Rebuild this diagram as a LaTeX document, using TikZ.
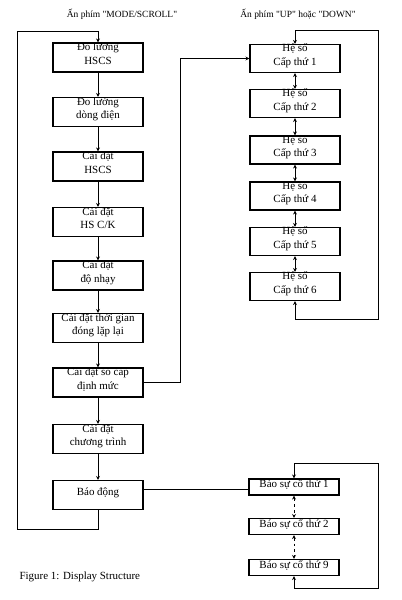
\documentclass[tikz,border=0pt]{standalone}
\usepackage{fontspec}
\setmainfont{Liberation Serif}[Ligatures=TeXOff]
\usetikzlibrary{arrows.meta}
\newcommand{\boxtxt}[1]{\raisebox{2.5bp}[\height][\depth]{\begin{tabular}{@{}c@{}}#1\end{tabular}}}
\newcommand{\alarmtxt}[1]{\raisebox{2.5bp}[\height][\depth]{#1}\hspace{9bp}}
\begin{document}
\begin{tikzpicture}[x=1bp,y=-1bp,
  box/.style={draw,line width=1.1bp,minimum width=90bp,minimum height=29bp,inner sep=0pt,font=\fontsize{11}{13.5}\selectfont},
  rbox/.style={box,minimum height=28bp},
  abox/.style={draw,line width=1.1bp,minimum width=90bp,minimum height=16bp,inner sep=0pt,font=\fontsize{11}{12}\selectfont},
  ln/.style={line width=1bp},
  arr/.style={ln,-{Stealth[length=4bp,width=4bp]}},
  darr/.style={ln,{Stealth[length=4bp,width=4bp]}-{Stealth[length=4bp,width=4bp]}},
  lbl/.style={font=\fontsize{9.5}{11}\selectfont}
]
\useasboundingbox (0,0) rectangle (401,600);
% headers
\node[lbl] (h1) at (122,14) {Ấn phím "MODE/SCROLL"};
\node[lbl] (h2) at (298,14) {Ấn phím "UP" hoặc "DOWN"};
% left column
\node[box] (b1) at (98,57.5) {\boxtxt{Đo lường\\HSCS}};
\node[box] (b2) at (98,112) {\boxtxt{Đo lường\\dòng điện}};
\node[box] (b3) at (98,166.5) {\boxtxt{Cài đặt\\HSCS}};
\node[box] (b4) at (98,222) {\boxtxt{Cài đặt\\HS C/K}};
\node[box] (b5) at (98,275.5) {\boxtxt{Cài đặt\\độ nhạy}};
\node[box] (b6) at (98,328) {\boxtxt{Cài đặt thời gian\\đóng lặp lại}};
\node[box] (b7) at (98,382.5) {\boxtxt{Cài đặt số cấp\\định mức}};
\node[box] (b8) at (98,439) {\boxtxt{Cài đặt\\chương trình}};
\node[box] (b9) at (98,495) {\boxtxt{Báo động}};
\foreach \a/\b in {b1/b2,b2/b3,b3/b4,b4/b5,b5/b6,b6/b7,b7/b8,b8/b9}
  \draw[arr] (\a) -- (\b);
\coordinate (l1) at (98,529);
\coordinate (l2) at (17,529);
\coordinate (l3) at (17,32);
\coordinate (l4) at (98,32);
\draw[arr] (b9.south) -- (l1) -- (l2) -- (l3) -- (l4) -- (b1.north);
% right column
\node[rbox] (r1) at (295,58.5) {\boxtxt{Hệ số\\Cấp thứ 1}};
\node[rbox] (r2) at (295,103.5) {\boxtxt{Hệ số\\Cấp thứ 2}};
\node[rbox] (r3) at (295,150) {\boxtxt{Hệ số\\Cấp thứ 3}};
\node[rbox] (r4) at (295,196) {\boxtxt{Hệ số\\Cấp thứ 4}};
\node[rbox] (r5) at (295,241.5) {\boxtxt{Hệ số\\Cấp thứ 5}};
\node[rbox] (r6) at (295,286.5) {\boxtxt{Hệ số\\Cấp thứ 6}};
\foreach \a/\b in {r1/r2,r2/r3,r3/r4,r4/r5,r5/r6}
  \draw[darr] (\a) -- (\b);
\coordinate (rl1) at (295,31);
\coordinate (rl2) at (378,31);
\coordinate (rl3) at (378,319);
\coordinate (rl4) at (295,319);
\draw[darr] (r1.north) -- (rl1) -- (rl2) -- (rl3) -- (rl4) -- (r6.south);
\coordinate (c1) at (180,382.5);
\coordinate (c2) at (180,58.5);
\draw[arr] (b7.east) -- (c1) -- (c2) -- (r1.west);
% alarm column
\node[abox] (a1) at (294,487) {\alarmtxt{Báo sự cố thứ 1}};
\node[abox] (a2) at (294,526.5) {\alarmtxt{Báo sự cố thứ 2}};
\node[abox] (a3) at (294,567.5) {\alarmtxt{Báo sự cố thứ 9}};
\draw[darr,dashed] (a1) -- (a2);
\draw[darr,dashed] (a2) -- (a3);
\coordinate (al1) at (294,463);
\coordinate (al2) at (378,463);
\coordinate (al3) at (378,588);
\coordinate (al4) at (294,588);
\draw[darr] (a1.north) -- (al1) -- (al2) -- (al3) -- (al4) -- (a3.south);
\coordinate (bm) at (143,489);
\draw[ln] (bm) -- (bm -| a1.west);
% caption
\node[anchor=west,font=\fontsize{11}{13}\selectfont] (cap) at (16,577) {Figure 1: Display Structure};
\end{tikzpicture}
\end{document}
